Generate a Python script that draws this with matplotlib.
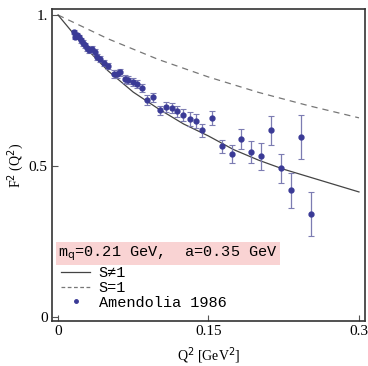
import matplotlib
matplotlib.use("Agg")
import matplotlib.pyplot as plt
from matplotlib.lines import Line2D

# theory curves
q2_curve = [0.0, 0.025, 0.05, 0.075, 0.1, 0.125, 0.15, 0.175, 0.2, 0.225, 0.25, 0.275, 0.3]
f2_s_ne1 = [1.0, 0.90, 0.815, 0.745, 0.69, 0.64, 0.60, 0.555, 0.52, 0.49, 0.465, 0.44, 0.415]
q2_dash = [0.0, 0.05, 0.1, 0.15, 0.2, 0.25, 0.3]
f2_s_eq1 = [1.0, 0.921, 0.853, 0.795, 0.744, 0.70, 0.66]

# Amendolia 1986 data points
q2_data = [0.016, 0.017, 0.019, 0.021, 0.023, 0.025, 0.027, 0.029, 0.031, 0.034,
           0.037, 0.039, 0.042, 0.046, 0.050, 0.056, 0.059, 0.062, 0.067, 0.070,
           0.075, 0.079, 0.084, 0.089, 0.095, 0.102, 0.108, 0.114, 0.119, 0.125,
           0.132, 0.138, 0.144, 0.153, 0.163, 0.173, 0.182, 0.192, 0.202, 0.212,
           0.222, 0.232, 0.242, 0.252]
f2_data = [0.944, 0.927, 0.934, 0.927, 0.917, 0.907, 0.900, 0.890, 0.884, 0.887,
           0.877, 0.861, 0.854, 0.841, 0.831, 0.805, 0.805, 0.811, 0.788, 0.785,
           0.778, 0.772, 0.758, 0.719, 0.728, 0.685, 0.695, 0.692, 0.682, 0.669,
           0.656, 0.649, 0.619, 0.659, 0.566, 0.540, 0.589, 0.546, 0.533, 0.619,
           0.493, 0.420, 0.596, 0.341]
f2_err = [0.008, 0.008, 0.008, 0.008, 0.008, 0.009, 0.009, 0.009, 0.009, 0.010,
          0.010, 0.010, 0.010, 0.011, 0.011, 0.012, 0.012, 0.012, 0.013, 0.013,
          0.013, 0.014, 0.014, 0.015, 0.015, 0.015, 0.016, 0.017, 0.018, 0.020,
          0.023, 0.024, 0.021, 0.023, 0.022, 0.030, 0.033, 0.036, 0.045, 0.048,
          0.048, 0.057, 0.073, 0.073]

x_ticks = [0, 0.15, 0.3]
x_labels = ["0", "0.15", "0.3"]
y_ticks = [0, 0.5, 1]
y_labels = ["0", "0.5", "1."]

serif = ["Liberation Serif", "DejaVu Serif"]
mono = ["Liberation Mono", "DejaVu Sans Mono"]

fig = plt.figure(figsize=(3.68, 3.66), dpi=100)
ax = fig.add_axes([52 / 368, 1 - 321 / 366, 313 / 368, 312 / 366])

ax.plot(q2_dash, f2_s_eq1, color="#777777", lw=0.9, dashes=(5, 4))
ax.plot(q2_curve, f2_s_ne1, color="#444444", lw=0.9)
ax.errorbar(q2_data, f2_data, yerr=f2_err, fmt="o", ms=3.5, color="#3a3a96",
            ecolor="#7c7cb2", elinewidth=0.9, capsize=2.5, capthick=0.8)

ax.set_xlim(-0.006, 0.306)
ax.set_ylim(-0.0116, 1.0198)
ax.set_xticks(x_ticks)
ax.set_xticklabels(x_labels, family=serif, fontsize=11)
ax.set_yticks(y_ticks)
ax.set_yticklabels(y_labels, family=serif, fontsize=11)
ax.tick_params(direction="in", length=4, width=0.8, color="#555555", pad=3)
for s in ax.spines.values():
    s.set_linewidth(1.2)
    s.set_color("#333333")

ax.set_xlabel(r"Q$^2$ [GeV$^2$]", family=serif, fontsize=10, labelpad=5)
ax.set_ylabel(r"F$^2$ (Q$^2$)", family=serif, fontsize=10, labelpad=2)

# legend block
ax.text(0.02, 0.216, r"m$_\mathrm{q}$=0.21 GeV,  a=0.35 GeV", transform=ax.transAxes,
        family=mono, fontsize=11, va="center", ha="left",
        bbox=dict(boxstyle="square,pad=0.12", fc="#f9d3d3", ec="none"))
handles = [Line2D([], [], color="#444444", lw=0.9),
           Line2D([], [], color="#777777", lw=0.9, dashes=(3, 2)),
           Line2D([], [], color="#3a3a96", marker="o", ms=2.5, ls="none")]
ax.legend(handles, ["S\u22601", "S=1", "Amendolia 1986"], loc="upper left",
          bbox_to_anchor=(0.0, 0.205), frameon=False,
          prop={"family": mono, "size": 11}, handlelength=1.9,
          handletextpad=0.55, labelspacing=0.05, borderaxespad=0.2)

fig.savefig("out.png", dpi=100)
